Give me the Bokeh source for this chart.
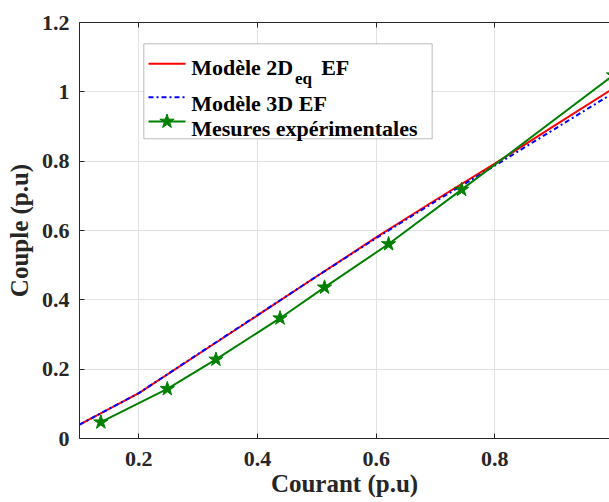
from bokeh.plotting import figure
from bokeh.models import (LinearAxis, FixedTicker, NumeralTickFormatter, BoxAnnotation, Label,
                          Range1d, CustomJSTickFormatter)
from bokeh.embed import file_html
from bokeh.resources import INLINE

# ---- data ----
courant_model = [0.1, 0.2, 0.3, 0.4, 0.5, 0.6, 0.7, 0.8, 0.9, 1.0]
couple_2d = [0.040, 0.131, 0.243, 0.355, 0.468, 0.580, 0.688, 0.793, 0.902, 1.010]
couple_3d = [0.040, 0.131, 0.244, 0.356, 0.468, 0.578, 0.684, 0.787, 0.892, 0.997]
courant_mes = [0.136, 0.248, 0.330, 0.438, 0.513, 0.621, 0.744, 1.0]
couple_mes = [0.047, 0.143, 0.228, 0.347, 0.436, 0.561, 0.718, 1.048]
x_ticks = [0.2, 0.4, 0.6, 0.8, 1.0]
y_ticks = [0, 0.2, 0.4, 0.6, 0.8, 1.0, 1.2]
legend_labels = ["Modèle 2D", "eq", "EF", "Modèle 3D EF", "Mesures expérimentales"]
x_title = "Courant (p.u)"
y_title = "Couple (p.u)"

# ---- layout ----
FONT = "Liberation Serif"
AX = "#262626"
W, H = 609, 502
BL, BR, BT, BB = 79, 0, 22, 64
FW, FH = W - BL - BR, H - BT - BB
X0 = 0.1
PX_PER_X = 593.3
X1 = X0 + FW / PX_PER_X
Y0, Y1 = 0.0, 1.2

p = figure(width=W, height=H, x_range=Range1d(X0, X1), y_range=Range1d(Y0, Y1),
           output_backend="svg", toolbar_location=None,
           min_border_left=BL, min_border_right=BR, min_border_top=BT, min_border_bottom=BB,
           x_axis_label=x_title, y_axis_label=y_title)
p.outline_line_color = None
p.background_fill_color = "white"
p.border_fill_color = "white"

for ax, ticks in ((p.xaxis[0], x_ticks), (p.yaxis[0], y_ticks)):
    ax.ticker = FixedTicker(ticks=ticks)
    ax.formatter = NumeralTickFormatter(format="0.[0]")
    ax.major_tick_in = 5
    ax.major_tick_out = 0
    ax.minor_tick_in = 0
    ax.minor_tick_out = 0
    ax.axis_line_color = AX
    ax.major_tick_line_color = AX
    ax.major_label_text_font = FONT
    ax.major_label_text_font_style = "bold"
    ax.major_label_text_font_size = "22px"
    ax.major_label_text_color = AX
    ax.axis_label_text_font = FONT
    ax.axis_label_text_font_style = "bold"
    ax.axis_label_text_font_size = "25px"
    ax.axis_label_text_color = AX

p.xaxis[0].major_label_standoff = 13
p.xaxis[0].axis_label_standoff = 1
p.yaxis[0].major_label_standoff = 10
p.yaxis[0].axis_label_standoff = 6

top = LinearAxis(ticker=FixedTicker(ticks=x_ticks),
                 formatter=CustomJSTickFormatter(code="return ''"),
                 major_tick_in=5, major_tick_out=0, minor_tick_in=0, minor_tick_out=0,
                 axis_line_color=AX, major_tick_line_color=AX, major_label_standoff=0)
p.add_layout(top, "above")

p.xgrid.ticker = FixedTicker(ticks=x_ticks)
p.ygrid.ticker = FixedTicker(ticks=y_ticks)
p.grid.grid_line_color = "#e2e2e2"
p.grid.grid_line_width = 1

RED, BLUE, GREEN = "#ff0000", "#0000ff", "#008000"

p.line(courant_model, couple_2d, line_color=RED, line_width=2)
p.line(courant_model, couple_3d, line_color=BLUE, line_width=2, line_dash="5 3 2 3")
p.line(courant_mes, couple_mes, line_color=GREEN, line_width=2)
p.scatter(courant_mes, couple_mes, marker="star", size=15, fill_color=GREEN, line_color=GREEN)

# ---- manual legend (canvas pixel -> data) ----
def px2x(px):
    return X0 + (px - BL) / PX_PER_X

def px2y(py):
    return Y0 + ((BT + FH) - py) * (Y1 - Y0) / FH

box = BoxAnnotation(left=px2x(143.3), right=px2x(431.7), top=px2y(43.3), bottom=px2y(138.3),
                    fill_color="white", fill_alpha=1.0, line_color=AX, line_width=1,
                    level="annotation")
p.add_layout(box)

sx = [px2x(148), px2x(185)]
p.line(sx, [px2y(63.3)] * 2, line_color=RED, line_width=2, level="overlay")
p.line(sx, [px2y(96.7)] * 2, line_color=BLUE, line_width=2, line_dash="5 3 2 3", level="overlay")
p.line(sx, [px2y(121)] * 2, line_color=GREEN, line_width=2, level="overlay")
p.scatter([px2x(166.5)], [px2y(121)], marker="star", size=15, fill_color=GREEN,
          line_color=GREEN, level="overlay")

def lab(text, px, py, size):
    p.add_layout(Label(x=px2x(px), y=px2y(py), text=text, text_font=FONT,
                       text_font_style="bold", text_font_size=size, text_color="black",
                       text_baseline="alphabetic", text_align="left", level="overlay"))

lab(legend_labels[0], 190.7, 66.7, "22px")
lab(legend_labels[1], 294.5, 77.7, "17px")
lab(legend_labels[2], 320.7, 66.7, "22px")
lab(legend_labels[3], 190.7, 103.3, "22px")
lab(legend_labels[4], 190.7, 128.3, "22px")

open("out.html", "w").write(file_html(p, INLINE))
